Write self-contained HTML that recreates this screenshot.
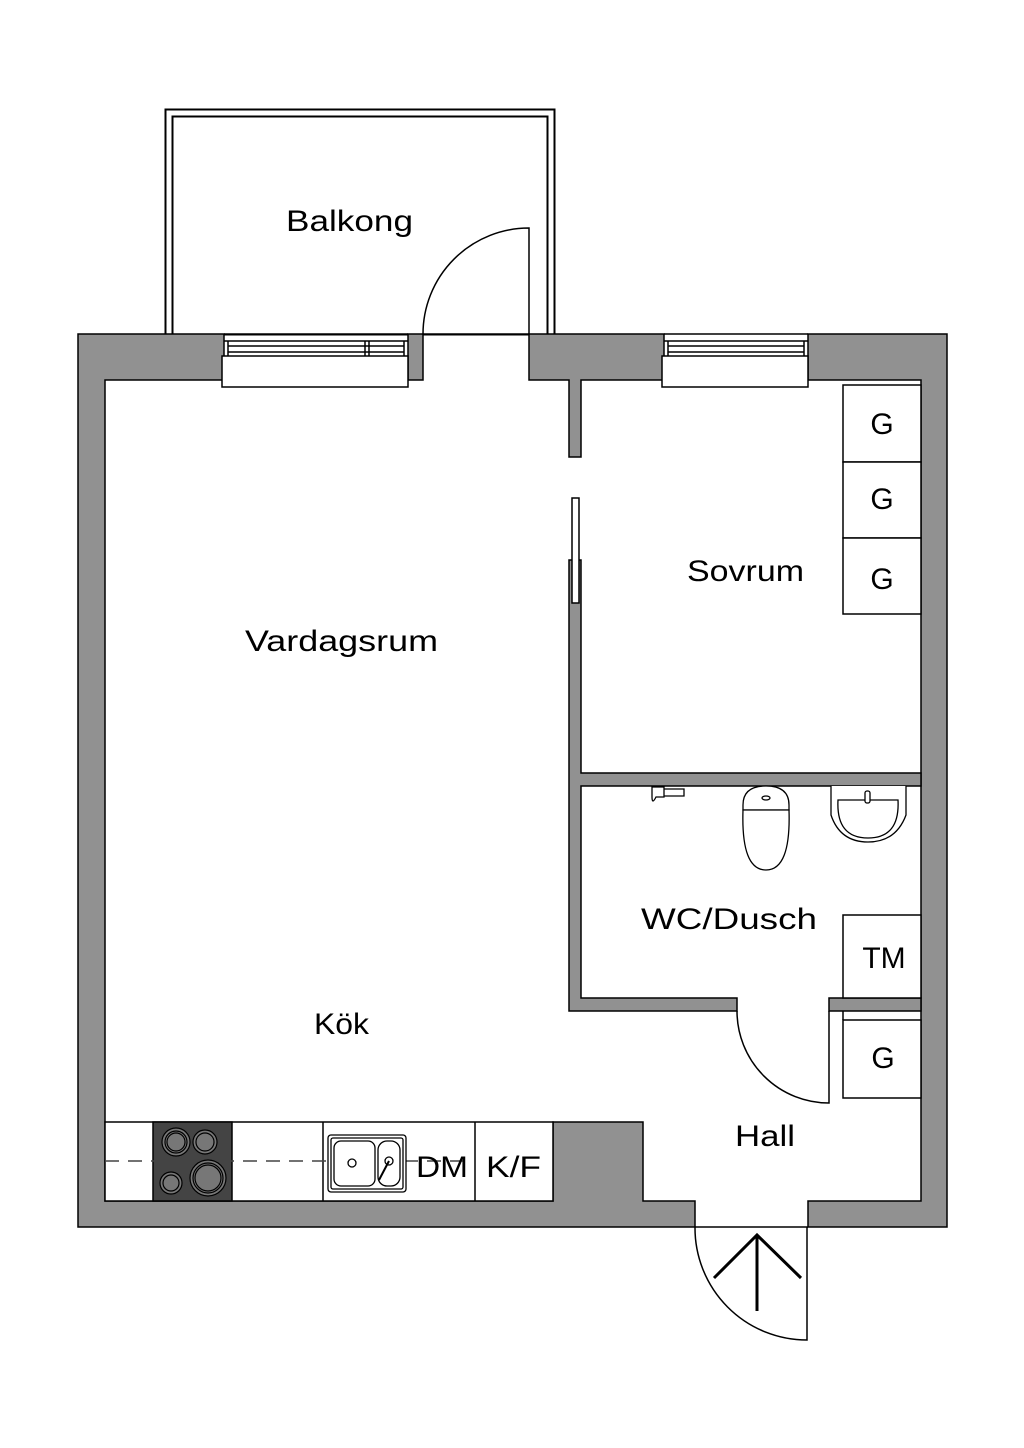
<!DOCTYPE html>
<html><head><meta charset="utf-8"><style>html,body{margin:0;padding:0;background:#fff}svg{display:block}</style></head>
<body>
<svg width="1024" height="1448" viewBox="0 0 1024 1448" xmlns="http://www.w3.org/2000/svg" font-family="Liberation Sans, sans-serif">
<rect width="1024" height="1448" fill="#fff"/>
<!-- balcony -->
<rect x="165.5" y="109.5" width="389" height="225" fill="none" stroke="#000" stroke-width="2"/>
<rect x="172.5" y="116.5" width="375" height="218" fill="none" stroke="#000" stroke-width="2"/>
<path d="M423 334 A106 106 0 0 1 529 228 L529 334" fill="none" stroke="#000" stroke-width="1.5"/>
<!-- outer walls -->
<g fill="#919191" stroke="#000" stroke-width="1.5">
<path d="M78 334 H224 V380 H105 V1201 H553 V1122 H643 V1201 H695 V1227 H78 Z"/>
<rect x="408" y="334" width="15" height="46"/>
<path d="M529 334 H664 V380 H581 V457 H569 V380 H529 Z"/>
<path d="M808 334 H947 V1227 H808 V1201 H921 V380 H808 Z"/>
<path d="M569 560 H581 V773 H921 V786 H581 V998 H737 V1011 H569 Z"/>
<rect x="829" y="998" width="92" height="13"/>
</g>
<line x1="224" y1="334" x2="408" y2="334" stroke="#000" stroke-width="1.5"/>
<line x1="664" y1="334" x2="808" y2="334" stroke="#000" stroke-width="1.5"/>
<line x1="423" y1="334" x2="529" y2="334" stroke="#000" stroke-width="1.5"/>
<!-- windows -->
<g fill="#fff" stroke="#000" stroke-width="1.5">
<rect x="222" y="356" width="186" height="31"/>
<rect x="662" y="356" width="146" height="31"/>
</g>
<g stroke="#000" stroke-width="1.5" fill="none">
<line x1="224" y1="341" x2="408" y2="341"/><line x1="228" y1="346" x2="404" y2="346"/><line x1="228" y1="352" x2="404" y2="352"/>
<line x1="228" y1="341" x2="228" y2="356"/><line x1="404" y1="341" x2="404" y2="356"/><line x1="365" y1="341" x2="365" y2="356"/><line x1="369" y1="341" x2="369" y2="356"/>
<line x1="664" y1="341" x2="808" y2="341"/><line x1="668" y1="346" x2="804" y2="346"/><line x1="668" y1="352" x2="804" y2="352"/>
<line x1="668" y1="341" x2="668" y2="356"/><line x1="804" y1="341" x2="804" y2="356"/>
</g>
<rect x="572" y="498" width="7" height="105" fill="#fff" stroke="#000" stroke-width="1.5"/>
<!-- wardrobes -->
<g fill="#fff" stroke="#000" stroke-width="1.5">
<rect x="843" y="385" width="78" height="77"/>
<rect x="843" y="462" width="78" height="76"/>
<rect x="843" y="538" width="78" height="76"/>
<rect x="843" y="915" width="78" height="83"/>
<rect x="843" y="1020" width="78" height="78"/>
</g>
<line x1="843" y1="1011" x2="843" y2="1020" stroke="#000" stroke-width="1.5"/>
<path d="M737 1011 A92 92 0 0 0 829 1103 L829 1011" fill="none" stroke="#000" stroke-width="1.5"/>
<!-- entry door -->
<line x1="695" y1="1227" x2="808" y2="1227" stroke="#000" stroke-width="1.5"/>
<path d="M695 1227 A112 112 0 0 0 807 1340 L807 1227" fill="none" stroke="#000" stroke-width="1.5"/>
<path d="M714 1278 L757 1235 L801 1278 M757 1235 V1311" fill="none" stroke="#000" stroke-width="3"/>
<!-- kitchen counter -->
<g stroke="#000" stroke-width="1.5">
<rect x="105" y="1122" width="448" height="79" fill="#fff"/>
<rect x="153" y="1122" width="79" height="79" fill="#444"/>
<line x1="323" y1="1122" x2="323" y2="1201"/><line x1="475" y1="1122" x2="475" y2="1201"/>
</g>
<line x1="105" y1="1161" x2="470" y2="1161" stroke="#444" stroke-width="1.5" stroke-dasharray="14,9"/>
<g stroke="#000" stroke-width="1.2" fill="#777">
<circle cx="176" cy="1142" r="14"/><circle cx="176" cy="1142" r="11" fill="none"/><circle cx="176" cy="1142" r="9"/>
<circle cx="205" cy="1142" r="12"/><circle cx="205" cy="1142" r="9"/>
<circle cx="171" cy="1183" r="11"/><circle cx="171" cy="1183" r="8"/>
<circle cx="208" cy="1178" r="18"/><circle cx="208" cy="1178" r="15" fill="none"/><circle cx="208" cy="1178" r="13"/>
</g>
<g stroke="#000" stroke-width="1.3" fill="#fff">
<rect x="328" y="1135" width="78" height="57" rx="3"/>
<rect x="331" y="1138" width="72" height="51" rx="2"/>
<rect x="334" y="1141" width="41" height="45" rx="7"/>
<rect x="378" y="1141" width="22" height="45" rx="9"/>
<circle cx="352" cy="1163" r="4"/><circle cx="389" cy="1161" r="4"/>
<line x1="389" y1="1161" x2="379" y2="1180" stroke-width="2"/>
</g>
<g font-size="30" fill="#000" lengthAdjust="spacingAndGlyphs">
<text x="416" y="1177" textLength="52" lengthAdjust="spacingAndGlyphs">DM</text>
<text x="486" y="1177" textLength="55" lengthAdjust="spacingAndGlyphs">K/F</text>
</g>
<!-- bathroom fixtures -->
<g stroke="#000" stroke-width="1.3" fill="#fff">
<path d="M743 805 Q743 786 766 786 Q789 786 789 805 L789 810 L743 810 Z"/>
<path d="M743 810 Q741 870 766 870 Q791 870 789 810 Z"/>
<ellipse cx="766" cy="798" rx="4" ry="2"/>
<path d="M831 786 V815 Q840 842 868 842 Q896 842 906 815 V786"/>
<path d="M838 800 Q836 838 868 838 Q900 838 898 800 Z"/>
<rect x="865" y="791" width="5" height="12" rx="2"/>
<path d="M652 787 h12 v10 h-8 q-4 8 -4 0 Z M664 789 h20 v7 h-20"/>
</g>
<!-- labels -->
<g font-size="30" fill="#000">
<text x="286" y="231" textLength="127" lengthAdjust="spacingAndGlyphs">Balkong</text>
<text x="245" y="651" textLength="193" lengthAdjust="spacingAndGlyphs">Vardagsrum</text>
<text x="687" y="581" textLength="117" lengthAdjust="spacingAndGlyphs">Sovrum</text>
<text x="314" y="1034" textLength="55" lengthAdjust="spacingAndGlyphs">Kök</text>
<text x="641" y="929" textLength="176" lengthAdjust="spacingAndGlyphs">WC/Dusch</text>
<text x="735" y="1146" textLength="60" lengthAdjust="spacingAndGlyphs">Hall</text>
</g>
<g font-size="30" fill="#000" text-anchor="middle">
<text x="882" y="434">G</text>
<text x="882" y="509">G</text>
<text x="882" y="589">G</text>
<text x="884" y="968">TM</text>
<text x="883" y="1068">G</text>
</g>
</svg>
</body></html>
